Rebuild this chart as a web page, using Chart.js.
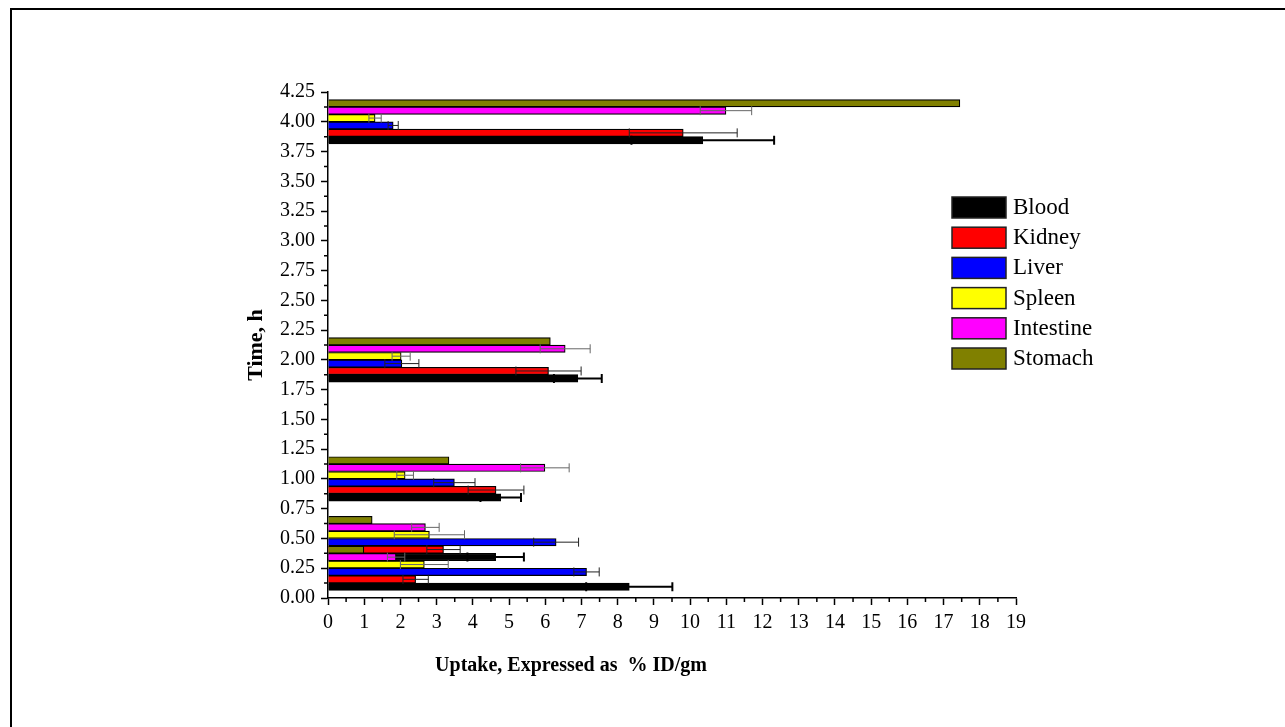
<!DOCTYPE html>
<html><head><meta charset="utf-8">
<script src="https://cdn.jsdelivr.net/npm/chart.js@4.4.0/dist/chart.umd.min.js"></script>
<style>html,body{margin:0;padding:0;background:#fff;}#wrap{position:relative;width:1285px;height:727px;}</style>
</head><body><div id="wrap"><canvas id="c" width="1285" height="727"></canvas></div>
<script>
// ---- data ----
const times = [0.25, 0.5, 1, 2, 4];
const seriesNames = ['Blood', 'Kidney', 'Liver', 'Spleen', 'Intestine', 'Stomach'];
const blood = [8.32, 4.63, 4.77, 6.90, 10.35];
const bloodErr = [1.19, 0.78, 0.56, 0.66, 1.97];
const kidney = [2.42, 3.19, 4.64, 6.09, 9.81];
const kidneyErr = [0.35, 0.46, 0.77, 0.90, 1.49];
const liver = [7.14, 6.30, 3.49, 2.04, 1.80];
const liverErr = [0.35, 0.62, 0.57, 0.47, 0.14];
const spleen = [2.66, 2.80, 2.13, 2.02, 1.30];
const spleenErr = [0.66, 0.97, 0.23, 0.25, 0.17];
const intestine = [1.88, 2.69, 5.99, 6.55, 10.99];
const intestineErr = [0.24, 0.38, 0.67, 0.69, 0.71];
const stomach = [0.99, 1.22, 3.34, 6.14, 17.45];
const stomachErr = [0, 0, 0, 0, 0];
const xTitle = 'Uptake, Expressed as  % ID/gm';
const yTitle = 'Time, h';

const values = [blood, kidney, liver, spleen, intestine, stomach];
const errors = [bloodErr, kidneyErr, liverErr, spleenErr, intestineErr, stomachErr];
const colors = ['#000000', '#ff0000', '#0000ff', '#ffff00', '#ff00ff', '#808000'];
const errColors = ['#000000', '#222222', '#222222', '#666666', '#666666', '#000000'];
const errWidths = [2, 1, 1, 1, 1, 1];
const SERIF = "'Liberation Serif', 'Times New Roman', serif";

// datasets listed Stomach..Blood so Blood sits lowest within each group
const datasets = seriesNames.map((n, i) => ({
  label: n,
  legendRank: i,
  data: times.map((t, j) => ({ x: values[i][j], y: t })),
  backgroundColor: colors[i],
  borderColor: '#000000',
  borderWidth: 1.2,
  barThickness: 7.4,
  errors: errors[i],
  errColor: errColors[i],
  errWidth: errWidths[i]
})).reverse();

const framePlugin = {
  id: 'frame',
  beforeDraw(chart) {
    const ctx = chart.ctx;
    ctx.save();
    ctx.fillStyle = '#fff';
    ctx.fillRect(0, 0, chart.width, chart.height);
    ctx.strokeStyle = '#000';
    ctx.lineWidth = 2;
    ctx.beginPath();
    ctx.moveTo(11, chart.height);
    ctx.lineTo(11, 9);
    ctx.lineTo(chart.width, 9);
    ctx.stroke();
    ctx.restore();
  }
};

const errorBarPlugin = {
  id: 'errbars',
  afterDatasetsDraw(chart) {
    const ctx = chart.ctx;
    const xs = chart.scales.x;
    chart.data.datasets.forEach((ds, i) => {
      const meta = chart.getDatasetMeta(i);
      meta.data.forEach((bar, j) => {
        const e = ds.errors[j];
        if (!e) return;
        const v = ds.data[j].x;
        const x1 = xs.getPixelForValue(v - e);
        const x2 = xs.getPixelForValue(v + e);
        const y = bar.y;
        const h = 4.5;
        ctx.save();
        ctx.strokeStyle = ds.errColor;
        ctx.lineWidth = ds.errWidth;
        ctx.beginPath();
        ctx.moveTo(x1, y); ctx.lineTo(x2, y);
        ctx.moveTo(x1, y - h); ctx.lineTo(x1, y + h);
        ctx.moveTo(x2, y - h); ctx.lineTo(x2, y + h);
        ctx.stroke();
        ctx.restore();
      });
    });
  }
};

const extrasPlugin = {
  id: 'extras',
  afterDraw(chart) {
    const ctx = chart.ctx;
    const xs = chart.scales.x, ys = chart.scales.y;
    const ca = chart.chartArea;
    ctx.save();
    ctx.strokeStyle = '#000';
    ctx.lineWidth = 1.5;
    ctx.beginPath();
    for (let v = 0.5; v < xs.max; v += 1) {
      const px = xs.getPixelForValue(v);
      ctx.moveTo(px, ca.bottom); ctx.lineTo(px, ca.bottom + 4);
    }
    for (let v = 0.125; v < ys.max; v += 0.25) {
      const py = ys.getPixelForValue(v);
      ctx.moveTo(ca.left, py); ctx.lineTo(ca.left - 4, py);
    }
    ctx.stroke();
    // x axis title
    ctx.fillStyle = '#000';
    ctx.font = "bold 20px " + SERIF;
    ctx.textAlign = 'center';
    ctx.textBaseline = 'middle';
    ctx.fillText(xTitle, 571, 666);
    // legend (Blood first, top to bottom)
    ctx.font = "23px " + SERIF;
    ctx.textAlign = 'left';
    const legendItems = chart.data.datasets.slice().sort((a, b) => a.legendRank - b.legendRank);
    legendItems.forEach((ds, i) => {
      const top = 197 + i * 30.2;
      ctx.fillStyle = ds.backgroundColor;
      ctx.fillRect(952, top, 54, 21);
      ctx.strokeStyle = '#222';
      ctx.lineWidth = 1.5;
      ctx.strokeRect(952, top, 54, 21);
      ctx.fillStyle = '#000';
      ctx.fillText(ds.label, 1013, top + 11);
    });
    ctx.restore();
  }
};

new Chart(document.getElementById('c'), {
  type: 'bar',
  data: { datasets },
  plugins: [framePlugin, errorBarPlugin, extrasPlugin],
  options: {
    indexAxis: 'y',
    responsive: false,
    animation: false,
    devicePixelRatio: 1,
    layout: { padding: { left: 0, top: 92, right: 269, bottom: 29 } },
    plugins: { legend: { display: false }, tooltip: { enabled: false } },
    scales: {
      x: {
        type: 'linear', min: 0, max: 19, position: 'bottom',
        ticks: { stepSize: 1, color: '#000', font: { family: SERIF, size: 20 }, padding: 6, maxRotation: 0, autoSkip: false },
        grid: { display: true, drawOnChartArea: false, drawTicks: true, tickLength: 7, tickColor: '#000', tickWidth: 1.5, offset: false },
        border: { display: true, color: '#000', width: 1.5 },
        afterFit: s => { s.height = 100; }
      },
      y: {
        type: 'linear', min: 0, max: 4.25, offset: false,
        ticks: { stepSize: 0.25, color: '#000', font: { family: SERIF, size: 20 }, padding: 6, autoSkip: false,
                 callback: v => Number(v).toFixed(2) },
        grid: { display: true, drawOnChartArea: false, drawTicks: true, tickLength: 7, tickColor: '#000', tickWidth: 1.5, offset: false },
        border: { display: true, color: '#000', width: 1.5 },
        title: { display: true, text: yTitle, color: '#000', font: { family: SERIF, size: 22, weight: 'bold' }, padding: { top: 243, bottom: 0 } },
        afterFit: s => { s.width = 328; }
      }
    }
  }
});
</script></body></html>
